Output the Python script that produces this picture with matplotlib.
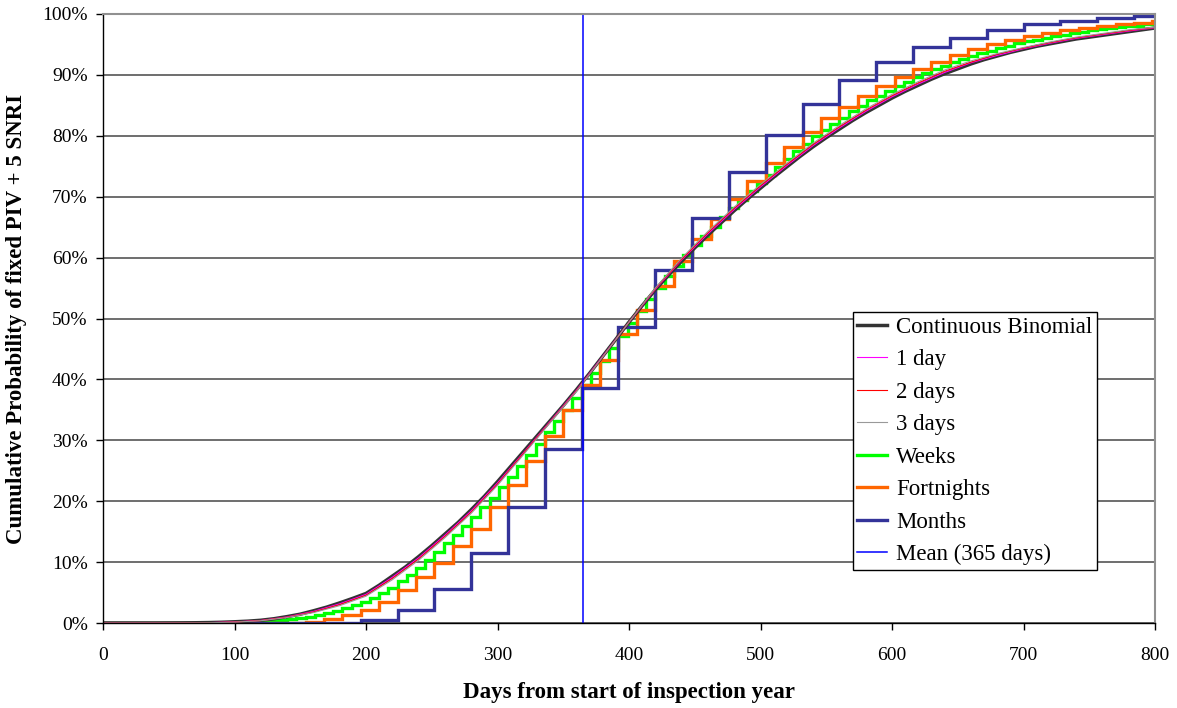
import matplotlib
matplotlib.use("Agg")
import matplotlib.pyplot as plt
import numpy as np

plt.rcParams["font.family"] = ["Liberation Serif", "DejaVu Serif"]

# Continuous binomial curve, read every 10 days (percent)
cont_pct = [0, 0, 0, 0, 0, 0.01, 0.02, 0.04, 0.07, 0.12,
            0.2, 0.3, 0.45, 0.7, 1.05, 1.45, 2.0, 2.6, 3.3, 4.05,
            4.85, 6.2, 7.7, 9.2, 10.9, 12.7, 14.6, 16.5, 18.6, 20.8,
            23.2, 25.7, 28.2, 30.7, 33.2, 35.7, 38.3, 41.0, 43.8, 46.6,
            49.4, 52.1, 54.7, 57.1, 59.4, 61.6, 63.7, 65.7, 67.7, 69.6,
            71.4, 73.2, 74.9, 76.6, 78.2, 79.7, 81.1, 82.5, 83.8, 85.0,
            86.2, 87.3, 88.3, 89.3, 90.2, 91.0, 91.8, 92.5, 93.1, 93.7,
            94.2, 94.7, 95.1, 95.5, 95.9, 96.2, 96.5, 96.8, 97.1, 97.4,
            97.7]

# 1, 2 and 3 day steps, read every 20 days (percent)
day1_pct = [0, 0, 0, 0.02, 0.06, 0.18, 0.42, 1.0, 1.9, 3.15,
            4.7, 7.5, 10.7, 14.4, 18.4, 23.0, 28.0, 33.1, 38.2, 43.8,
            49.4, 54.8, 59.6, 63.9, 67.9, 71.6, 75.1, 78.4, 81.3, 84.0,
            86.4, 88.5, 90.4, 92.0, 93.2, 94.3, 95.2, 96.0, 96.6, 97.2,
            97.75]
day2_pct = [0, 0, 0, 0.02, 0.05, 0.16, 0.4, 0.95, 1.8, 3.0,
            4.55, 7.3, 10.5, 14.2, 18.2, 22.8, 27.9, 33.0, 38.1, 43.7,
            49.4, 54.9, 59.7, 64.1, 68.1, 71.8, 75.3, 78.6, 81.5, 84.2,
            86.6, 88.7, 90.6, 92.1, 93.4, 94.4, 95.3, 96.1, 96.7, 97.3,
            97.8]
day3_pct = [0, 0, 0, 0.01, 0.04, 0.14, 0.37, 0.9, 1.7, 2.85,
            4.4, 7.1, 10.3, 14.0, 18.0, 22.6, 27.7, 32.9, 38.0, 43.7,
            49.4, 55.0, 59.9, 64.3, 68.3, 72.0, 75.5, 78.8, 81.7, 84.4,
            86.8, 88.9, 90.8, 92.3, 93.5, 94.5, 95.4, 96.2, 96.8, 97.4,
            97.85]

# Weekly steps (value from each 7th day on)
week_pct = [0, 0, 0, 0, 0, 0, 0, 0, 0, 0, 0, 0, 0, 0, 0,
            0.1, 0.15, 0.2, 0.3, 0.45, 0.6, 0.8, 1.0, 1.3, 1.6,
            2.0, 2.5, 3.0, 3.5, 4.1, 4.9, 5.8, 6.9, 7.9, 9.1,
            10.4, 11.7, 13.1, 14.5, 16.0, 17.4, 19.0, 20.6, 22.3, 24.0,
            25.8, 27.6, 29.4, 31.3, 33.1, 35.0, 37.0, 39.0, 41.0, 43.0,
            45.1, 47.2, 49.2, 51.2, 53.2, 55.0, 56.9, 58.6, 60.4, 62.1,
            63.6, 65.1, 66.6, 68.1, 69.5, 70.9, 72.3, 73.6, 74.9, 76.2,
            77.5, 78.7, 79.9, 81.0, 82.0, 83.0, 84.0, 84.9, 85.8, 86.6,
            87.4, 88.2, 88.9, 89.6, 90.3, 90.9, 91.5, 92.1, 92.6, 93.1,
            93.6, 94.0, 94.4, 94.8, 95.2, 95.5, 95.8, 96.1, 96.4, 96.6,
            96.9, 97.1, 97.3, 97.5, 97.7, 97.8, 98.0, 98.1, 98.3, 98.4]

# Fortnightly steps (every 14 days)
fortnight_pct = [0, 0, 0, 0, 0, 0, 0, 0, 0, 0,
                 0.05, 0.2, 0.6, 1.3, 2.1, 3.5, 5.5, 7.5, 9.9, 12.6,
                 15.5, 19.0, 22.6, 26.6, 30.7, 34.9, 39.0, 43.2, 47.4, 51.4,
                 55.4, 59.4, 63.0, 66.3, 69.7, 72.6, 75.6, 78.2, 80.7, 82.9,
                 84.8, 86.6, 88.2, 89.7, 91.0, 92.2, 93.3, 94.2, 95.0, 95.7,
                 96.4, 96.9, 97.3, 97.7, 98.0, 98.3, 98.6, 98.8]

# Monthly (28 day) steps
month_pct = [0, 0, 0, 0, 0, 0, 0.05, 0.5, 2.1, 5.6,
             11.5, 19.0, 28.6, 38.6, 48.6, 58.0, 66.5, 74.0, 80.1, 85.2,
             89.1, 92.2, 94.5, 96.1, 97.4, 98.3, 98.9, 99.4, 99.7]

MEAN_DAYS = 365
X_MAX = 800

cont_days = np.arange(len(cont_pct)) * 10
short_days = np.arange(len(day1_pct)) * 20


def edges(n, step):
    return np.append(np.arange(n) * step, X_MAX)


fig = plt.figure(figsize=(11.77, 7.08), dpi=100)
ax = fig.add_axes([103 / 1177, 1 - 623 / 708, 1052 / 1177, 609 / 708])

ax.plot(cont_days, cont_pct, color="#333333", lw=2.5, label="Continuous Binomial")
ax.plot(short_days, day1_pct, color="#ff00ff", lw=0.8, label="1 day")
ax.plot(short_days, day2_pct, color="#ff0000", lw=0.8, label="2 days")
ax.plot(short_days, day3_pct, color="#999999", lw=0.8, label="3 days")
ax.stairs(week_pct, edges(len(week_pct), 7), baseline=None,
          color="#00ff00", lw=2.4, label="Weeks")
ax.stairs(fortnight_pct, edges(len(fortnight_pct), 14), baseline=None,
          color="#ff6600", lw=2.4, label="Fortnights")
ax.stairs(month_pct, edges(len(month_pct), 28), baseline=None,
          color="#333399", lw=2.4, label="Months")
ax.axvline(MEAN_DAYS, color="#0000ff", lw=1.1, label="Mean (365 days)")

ax.set_xlim(0, X_MAX)
ax.set_ylim(0, 100)
ax.set_xticks(np.arange(0, X_MAX + 1, 100))
ax.set_yticks(np.arange(0, 101, 10))
ax.set_yticklabels([f"{v}%" for v in range(0, 101, 10)])
ax.tick_params(axis="both", direction="out", length=5, width=1,
               labelsize=14, color="black")
ax.tick_params(axis="x", pad=12)
ax.tick_params(axis="y", pad=6)
ax.grid(axis="y", color="#555555", lw=1.2)
ax.set_axisbelow(True)

for side in ("left", "bottom"):
    ax.spines[side].set_color("black")
    ax.spines[side].set_linewidth(1.0)
for side in ("top", "right"):
    ax.spines[side].set_color("#909090")
    ax.spines[side].set_linewidth(1.5)

ax.set_xlabel("Days from start of inspection year", fontsize=16.5, fontweight="bold")
ax.set_ylabel("Cumulative Probability of fixed PIV + 5 SNRI", fontsize=16.5,
              fontweight="bold")
ax.xaxis.set_label_coords(0.5, -0.097)
ax.yaxis.set_label_coords(-0.072, 0.5)

leg = ax.legend(loc="lower right", bbox_to_anchor=(0.945, 0.087), fontsize=16.5,
                frameon=True, fancybox=False, framealpha=1, edgecolor="black",
                handlelength=1.3, handletextpad=0.4, labelspacing=0.5,
                borderpad=0.2, borderaxespad=0)
leg.get_frame().set_linewidth(1.0)

fig.savefig("out.png", dpi=100)
